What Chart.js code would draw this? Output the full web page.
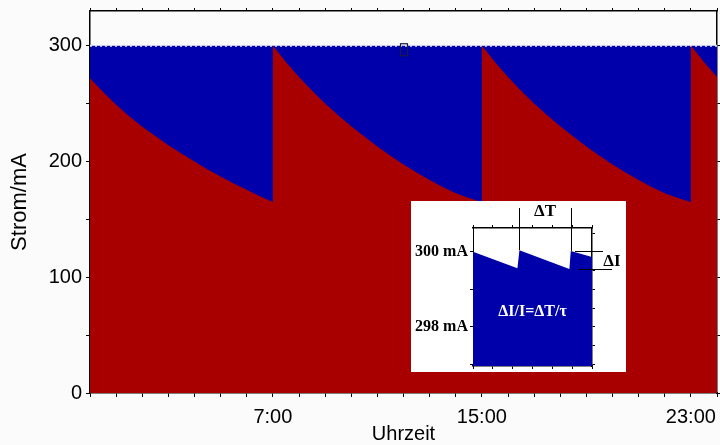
<!DOCTYPE html>
<html>
<head>
<meta charset="utf-8">
<script src="https://cdn.jsdelivr.net/npm/chart.js@4.4.0/dist/chart.umd.min.js"></script>
<style>
  body { margin: 0; background: #fbfbfb; }
  #wrap { position: relative; width: 720px; height: 445px; }
  #inset { position: absolute; left: 411px; top: 201px; background: #fff; }
</style>
</head>
<body>
<div id="wrap">
  <canvas id="myChart" width="720" height="445"></canvas>
  <canvas id="inset" width="215" height="171"></canvas>
</div>
<script>
// Strahlstrom ueber einen Tag: rot = Decay mit Injektion alle 8 h, blau = top-up
let stunden = [
  0, 0.5, 1, 1.5, 2, 2.5, 3, 3.5, 4, 4.5, 5, 5.5, 6, 6.5, 7,
  7, 7.5, 8, 8.5, 9, 9.5, 10, 10.5, 11, 11.5, 12, 12.5, 13, 13.5, 14, 14.5, 15,
  15, 15.5, 16, 16.5, 17, 17.5, 18, 18.5, 19, 19.5, 20, 20.5, 21, 21.5, 22, 22.5, 23,
  23, 23.5, 24
];
let strom = [
  272, 260, 249, 239, 230, 222, 214, 207, 200, 193, 187, 181, 175.5, 170, 165,
  300, 286, 273, 261, 250, 240, 230.5, 221.5, 213, 205, 197.5, 190.5, 184, 178, 172.5, 168.5, 165,
  300, 286, 273, 261, 250, 240, 230.5, 221.5, 213, 205, 197.5, 190.5, 184, 178, 172.5, 168.5, 165,
  300, 286, 273
];
let topupStunden = [0, 24];
let topupStrom = [300, 300];

let tickStunden = [7, 15, 23];
let tickTexte = ['7:00', '15:00', '23:00'];

// Ausschnitt (Inset): Saegezahn beim top-up
let insetT = [0, 2.24, 2.34, 4.86, 4.93, 6];
let insetI = [300.01, 299.57, 300.05, 299.55, 300.03, 299.87];
let insetTicks = [300, 298];
let insetTexte = ['300 mA', '298 mA'];

Chart.defaults.font.family = '"Liberation Sans", Arial, sans-serif';
Chart.defaults.color = '#000';

let serif = { family: '"Liberation Serif", "Times New Roman", serif', size: 16, weight: 'bold' };

// feste Groessen, ohne automatische Label-Polsterung
let fix = (s, size) => {
  if (s.isHorizontal()) s.height = size; else s.width = size;
  s.paddingTop = 0; s.paddingBottom = 0; s.paddingLeft = 0; s.paddingRight = 0;
};

let kasten = {
  id: 'kasten',
  afterDatasetsDraw(chart) {
    let ctx = chart.ctx;
    let x = chart.scales.x.getPixelForValue(12);
    let y = chart.scales.y.getPixelForValue(300);
    ctx.save();
    ctx.strokeStyle = '#1a1a40';
    ctx.lineWidth = 1.2;
    ctx.strokeRect(x - 3, y - 2, 7, 12);
    ctx.restore();
  }
};

let frameAxis = (pos, size) => ({
  position: pos,
  grid: { drawOnChartArea: false, tickLength: 3, color: '#000' },
  border: { color: '#000', width: 1.5 },
  afterFit: s => fix(s, size)
});

let myChart = document.getElementById('myChart').getContext('2d');
let chart = new Chart(myChart, {
  type: 'line',
  data: {
    datasets: [{
      data: stunden.map((h, i) => ({ x: h, y: strom[i] })),
      backgroundColor: '#a80000',
      borderWidth: 0,
      pointRadius: 0,
      tension: 0,
      fill: 'origin',
      order: 1
    }, {
      data: topupStunden.map((h, i) => ({ x: h, y: topupStrom[i] })),
      backgroundColor: '#0000aa',
      borderColor: '#dfe2f5',
      borderWidth: 2,
      borderDash: [2, 3],
      pointRadius: 0,
      fill: 'origin',
      order: 2
    }]
  },
  options: {
    responsive: false,
    animation: false,
    layout: { padding: 0 },
    plugins: { legend: { display: false }, tooltip: { enabled: false } },
    scales: {
      x: {
        type: 'linear', min: 0, max: 24,
        ticks: {
          stepSize: 1, autoSkip: false, maxRotation: 0, padding: 8,
          font: { size: 20 },
          callback: v => tickStunden.includes(v) ? tickTexte[tickStunden.indexOf(v)] : ''
        },
        grid: { drawOnChartArea: false, tickLength: 4, color: '#000' },
        border: { color: '#000', width: 1.5 },
        title: { display: true, text: 'Uhrzeit', font: { size: 20, lineHeight: 1 }, padding: { top: 0, bottom: 1 } },
        afterFit: s => fix(s, 52)
      },
      x2: Object.assign({ type: 'linear', min: 0, max: 24, ticks: { display: false, stepSize: 1 } }, frameAxis('top', 11)),
      y: {
        min: 0, max: 330,
        ticks: {
          stepSize: 50, includeBounds: false, padding: 4,
          font: { size: 20 },
          callback: v => v % 100 == 0 ? v : ''
        },
        grid: { drawOnChartArea: false, tickLength: 4, color: '#000' },
        border: { color: '#000', width: 1.5 },
        title: { display: true, text: 'Strom/mA', font: { size: 22, lineHeight: 1 }, padding: { top: 9, bottom: 0 } },
        afterFit: s => fix(s, 90)
      },
      y2: Object.assign({ min: 0, max: 330, ticks: { display: false, stepSize: 50, includeBounds: false } }, frameAxis('right', 3))
    }
  },
  plugins: [kasten]
});

let beschriftung = {
  id: 'beschriftung',
  afterDraw(chart) {
    let ctx = chart.ctx;
    let a = chart.chartArea;
    let sx = chart.scales.x, sy = chart.scales.y;
    ctx.save();
    ctx.strokeStyle = '#000';
    ctx.lineWidth = 1;
    ctx.fillStyle = '#000';
    ctx.font = 'bold 17px "Liberation Serif", serif';
    ctx.textAlign = 'center';
    ctx.textBaseline = 'middle';
    // Delta T
    let j1 = sx.getPixelForValue(insetT[2]), j2 = sx.getPixelForValue(insetT[4]);
    [[j1, insetI[2]], [j2, insetI[4]]].forEach(p => {
      ctx.beginPath();
      ctx.moveTo(Math.round(p[0]) + 0.5, a.top - 20);
      ctx.lineTo(Math.round(p[0]) + 0.5, sy.getPixelForValue(p[1]));
      ctx.stroke();
    });
    ctx.fillText('\u0394T', (j1 + j2) / 2, a.top - 16);
    // Delta I
    let yo = Math.round(sy.getPixelForValue(insetI[4])) + 0.5;
    let yu = Math.round(sy.getPixelForValue(insetI[3])) + 0.5;
    ctx.beginPath();
    ctx.moveTo(a.right - 17, yo); ctx.lineTo(a.right + 11, yo);
    ctx.moveTo(a.right - 14, yu); ctx.lineTo(a.right + 20, yu);
    ctx.stroke();
    ctx.fillText('\u0394I', a.right + 20, (yo + yu) / 2 + 1);
    // Formel
    ctx.fillStyle = '#fff';
    ctx.font = 'bold 16px "Liberation Serif", serif';
    ctx.fillText('\u0394I/I=\u0394T/\u03c4', (a.left + a.right) / 2, sy.getPixelForValue(298.4));
    ctx.restore();
  }
};

let insetCtx = document.getElementById('inset').getContext('2d');
let inset = new Chart(insetCtx, {
  type: 'line',
  data: {
    datasets: [{
      data: insetT.map((t, i) => ({ x: t, y: insetI[i] })),
      backgroundColor: '#0000aa',
      borderWidth: 0,
      pointRadius: 0,
      tension: 0,
      fill: 'start'
    }]
  },
  options: {
    responsive: false,
    animation: false,
    layout: { padding: 0 },
    plugins: { legend: { display: false }, tooltip: { enabled: false } },
    scales: {
      x: Object.assign({ type: 'linear', min: 0, max: 6, ticks: { display: false, stepSize: 1 } }, frameAxis('bottom', 6)),
      x2: Object.assign({ type: 'linear', min: 0, max: 6, ticks: { display: false, stepSize: 1 } }, frameAxis('top', 27)),
      y: {
        min: 296.96, max: 300.64,
        ticks: {
          stepSize: 0.5, includeBounds: false, padding: 2, font: serif,
          callback: v => insetTicks.includes(v) ? insetTexte[insetTicks.indexOf(v)] : ''
        },
        grid: { drawOnChartArea: false, tickLength: 3, color: '#000' },
        border: { color: '#000', width: 1 },
        afterFit: s => fix(s, 62)
      },
      y2: Object.assign({ min: 296.96, max: 300.64, ticks: { display: false, stepSize: 0.5, includeBounds: false } }, frameAxis('right', 34))
    }
  },
  plugins: [beschriftung]
});
</script>
</body>
</html>
